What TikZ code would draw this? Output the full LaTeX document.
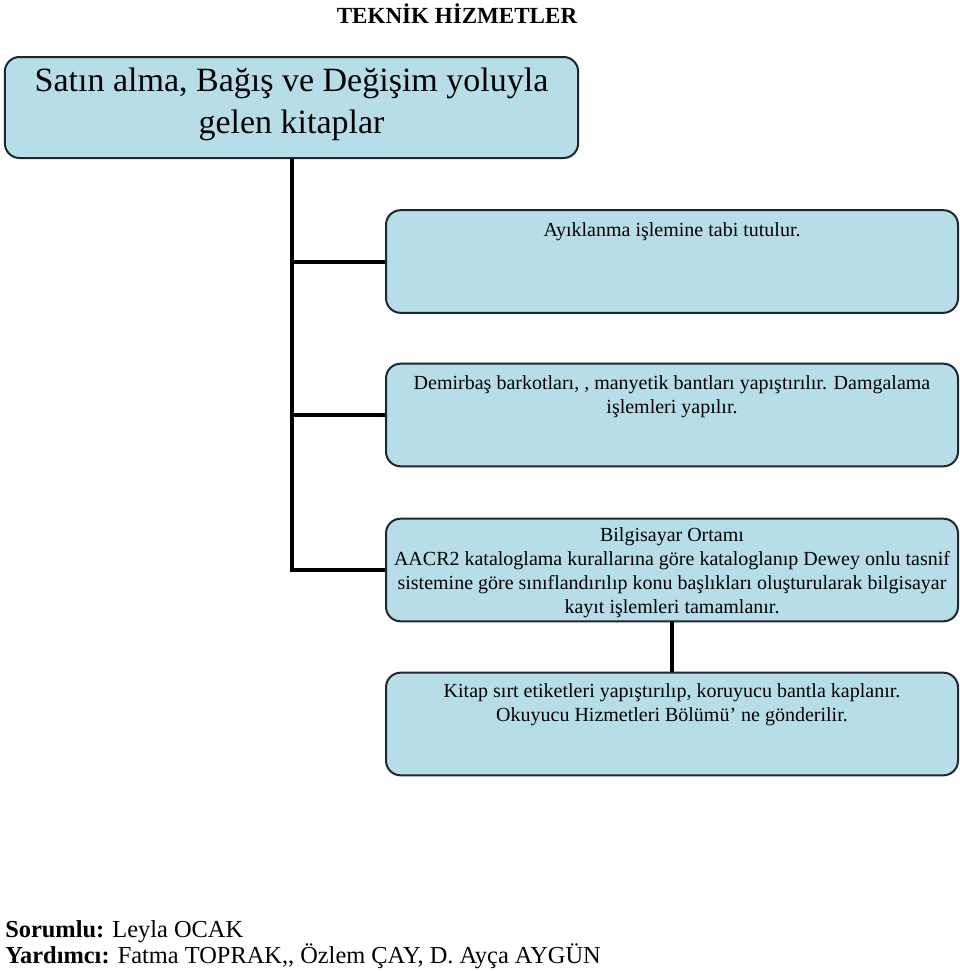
\documentclass[tikz,border=0pt]{standalone}
\usepackage{fontspec}
\setmainfont{Liberation Serif}
\definecolor{kutu}{HTML}{B7DEE8}
\definecolor{cizgi}{HTML}{1E2730}
\begin{document}
\begin{tikzpicture}[x=0.75pt,y=-0.75pt,
  kutu/.style={draw=cizgi,line width=1.5pt,fill=kutu,rounded corners=11pt,
    minimum width=429pt,minimum height=77pt,inner sep=0pt},
  yazi/.style={anchor=north,align=center,inner sep=0pt,font=\fontsize{15}{18}\selectfont},
  bag/.style={line width=3pt,black}]
 \useasboundingbox (0,0) rectangle (960,971);
 % baslik
 \node[font=\fontsize{17.3}{20}\selectfont\bfseries] (baslik) at (457,14) {TEKNİK HİZMETLER};
 % kutular
 \node[kutu,minimum width=430pt,minimum height=75.75pt] (k1) at (291.5,107.5) {};
 \node[kutu] (k2) at (672,261.5) {};
 \node[kutu] (k3) at (672,415) {};
 \node[kutu] (k4) at (672,570) {};
 \node[kutu] (k5) at (672,724) {};
 % baglantilar
 \draw[bag] (k1.south) |- (k4.west);
 \draw[bag] (k1.south |- k2.west) -- (k2.west);
 \draw[bag] (k1.south |- k3.west) -- (k3.west);
 \draw[bag] (k4.south) -- (k5.north);
 % yazilar
 \node[yazi,font=\fontsize{25.5}{31.5}\selectfont] (y1) at (291.5,68)
   {Satın alma, Bağış ve Değişim yoluyla\\gelen kitaplar};
 \node[yazi] (y2) at (672,222) {Ayıklanma işlemine tabi tutulur.};
 \node[yazi] (y3) at (672,375)
   {Demirbaş barkotları, , manyetik bantları yapıştırılır. Damgalama\\işlemleri yapılır.};
 \node[yazi] (y4) at (672,527)
   {Bilgisayar Ortamı\\AACR2 kataloglama kurallarına göre kataloglanıp Dewey onlu tasnif\\
    sistemine göre sınıflandırılıp konu başlıkları oluşturularak bilgisayar\\
    kayıt işlemleri tamamlanır.};
 \node[yazi] (y5) at (672,683)
   {Kitap sırt etiketleri yapıştırılıp, koruyucu bantla kaplanır.\\
    Okuyucu Hizmetleri Bölümü’ ne gönderilir.};
 % alt bilgi
 \node[anchor=north west,align=left,inner sep=0pt,font=\fontsize{18.3}{19.5}\selectfont]
   (ekip) at (5,920)
   {\textbf{Sorumlu:} Leyla OCAK\\\textbf{Yardımcı:} Fatma TOPRAK,{},{} Özlem ÇAY, D. Ayça AYGÜN};
\end{tikzpicture}
\end{document}
